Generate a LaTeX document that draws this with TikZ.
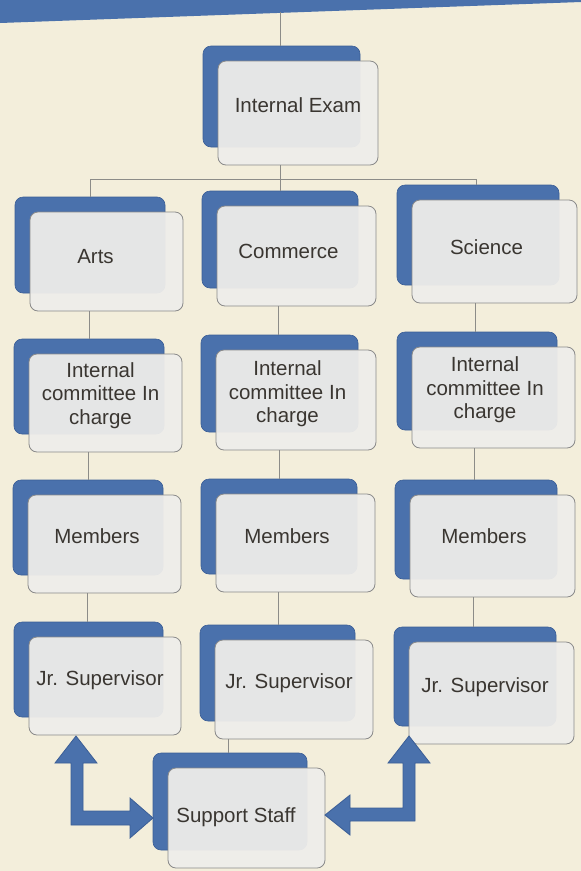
\documentclass[tikz,border=0pt]{standalone}
\usepackage{fontspec}
\setmainfont{Liberation Sans}
\definecolor{bg}{HTML}{F3EEDB}
\definecolor{blu}{HTML}{4A71AC}
\definecolor{bluedge}{HTML}{3B5E96}
\definecolor{frontc}{HTML}{EEEDEA}
\definecolor{edgec}{HTML}{8A8A8A}
\definecolor{txt}{HTML}{3A3631}
\definecolor{linec}{HTML}{8C8C88}
\tikzset{
  backbox/.style={draw=bluedge, line width=0.6pt, fill=blu, rounded corners=8pt, rectangle, inner sep=0pt},
  frontbox/.style={draw=edgec, line width=0.8pt, fill=frontc, fill opacity=0.95, rounded corners=8pt, rectangle, inner sep=0pt},
  lbl/.style={text=txt, font=\fontsize{20.5}{23.5}\selectfont, align=center, inner sep=0pt},
  conn/.style={draw=linec, line width=0.9pt},
  blockarrow/.style={fill=blu, draw=bluedge, line width=0.8pt, line join=miter},
}
% #1 text shift, #2 name, #3 x1, #4 y1, #5 x2, #6 y2, #7 text
\newcommand\obox[7][-7,-7]{%
  \node[backbox, minimum width={(#5-#3-3)*1pt}, minimum height={(#6-#4-3)*1pt}] (#2-b) at ({(#3+#5)/2-16.5},{(#4+#6)/2-16.5}) {};
  \node[frontbox, minimum width={(#5-#3)*1pt}, minimum height={(#6-#4)*1pt}] (#2) at ({(#3+#5)/2},{(#4+#6)/2}) {};
  \node[lbl] (#2-t) at ([shift={(#1)}]#2.center) {#7};
}
\begin{document}
\begin{tikzpicture}[x=1pt,y=-1pt]
\fill[bg] (0,0) rectangle (581,871);
\useasboundingbox (0,0) rectangle (581,871);
\clip (0,0) rectangle (581,871);
\fill[blu] (0,0) -- (581,0) -- (581,2) -- (0,23) -- cycle;

% connectors
\coordinate (topc) at (280,12);
\coordinate (bus) at (280,179);
\coordinate (busL) at (90,179);
\coordinate (busR) at (476,179);

\obox[0,-8]{ie}{218}{61}{378}{165}{Internal Exam}
\obox[-11,-5]{arts}{30}{212}{183}{311}{Arts}
\obox[-8,-5]{comm}{217}{206}{376}{306}{Commerce}
\obox[-8,-4]{sci}{412}{200}{577}{303}{Science}
\obox[-5,-7.5]{artsc}{29}{354}{182}{452}{Internal\\committee In\\charge}
\obox[-8.5,-6]{commc}{216}{350}{376}{450}{Internal\\committee In\\charge}
\obox[-8.5,-7.5]{scic}{412}{347}{575}{448}{Internal\\committee In\\charge}
\obox[-7.5,-8]{artsm}{28}{495}{181}{593}{Members}
\obox[-8.5,-7]{commm}{216}{494}{375}{592}{Members}
\obox[-8.5,-10]{scim}{410}{495}{575}{597}{Members}
\obox[-5,-6]{artsj}{29}{637}{181}{735}{Jr. Supervisor}
\obox[-5,-6.5]{commj}{215}{640}{373}{739}{Jr. Supervisor}
\obox[-6.5,-6]{scij}{409}{642}{574}{744}{Jr. Supervisor}
\obox[-10.5,-1]{sup}{168}{768}{325}{868}{Support Staff}

\draw[conn] (topc) -- (topc |- ie-b.north);
\draw[conn] (bus |- ie.south) -- (bus);
\draw[conn] (busL) -- (busR);
\draw[conn] (busL) -- (busL |- arts-b.north);
\draw[conn] (bus) -- (bus |- comm-b.north);
\draw[conn] (busR) -- (busR |- sci-b.north);

\draw[conn] (89,0 |- arts.south) -- (89,0 |- artsc-b.north);
\draw[conn] (278,0 |- comm.south) -- (278,0 |- commc-b.north);
\draw[conn] (475,0 |- sci.south) -- (475,0 |- scic-b.north);
\draw[conn] (88,0 |- artsc.south) -- (88,0 |- artsm-b.north);
\draw[conn] (279,0 |- commc.south) -- (279,0 |- commm-b.north);
\draw[conn] (474,0 |- scic.south) -- (474,0 |- scim-b.north);
\draw[conn] (87,0 |- artsm.south) -- (87,0 |- artsj-b.north);
\draw[conn] (278,0 |- commm.south) -- (278,0 |- commj-b.north);
\draw[conn] (473,0 |- scim.south) -- (473,0 |- scij-b.north);
\draw[conn] (228,0 |- commj.south) -- (228,0 |- sup-b.north);

% block arrows
\draw[blockarrow] (76,736) -- (97,763) -- (83,763) -- (83,811) -- (130,811) -- (130,798) -- (153,818) -- (130,838) -- (130,825) -- (71,825) -- (71,763) -- (55,763) -- cycle;
\draw[blockarrow] (409,736) -- (430,763) -- (415,763) -- (415,821) -- (350,821) -- (350,835) -- (325,815) -- (350,795) -- (350,808) -- (403,808) -- (403,763) -- (388,763) -- cycle;
\end{tikzpicture}
\end{document}
